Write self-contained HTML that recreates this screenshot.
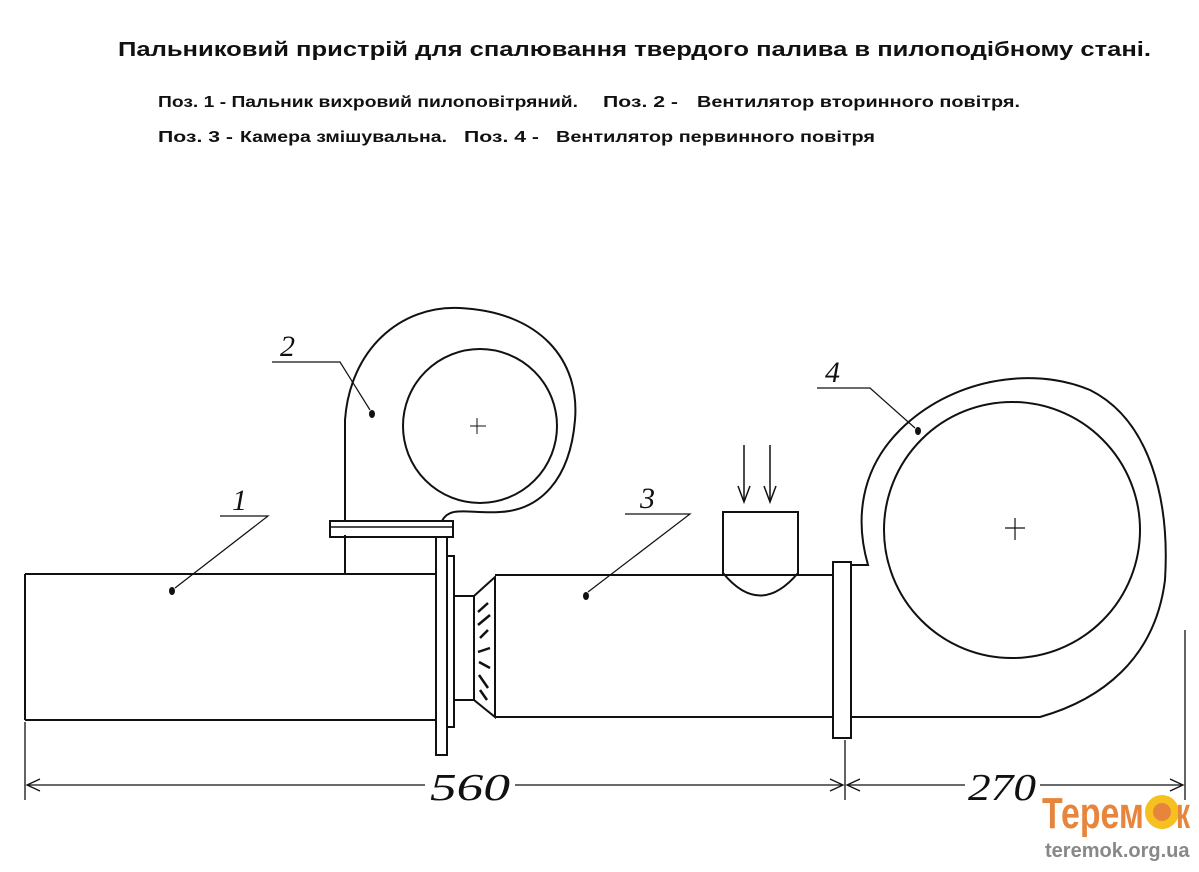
<!DOCTYPE html>
<html><head><meta charset="utf-8"><style>
html,body{margin:0;padding:0;background:#fff;}
svg{display:block}
</style></head><body>
<svg width="1199" height="872" viewBox="0 0 1199 872" xmlns="http://www.w3.org/2000/svg">
<rect width="1199" height="872" fill="#fff"/>
<g font-family="Liberation Sans, sans-serif" font-weight="bold" fill="#111">
<text x="118" y="56" font-size="20" textLength="1033" lengthAdjust="spacingAndGlyphs">Пальниковий пристрій для спалювання твердого палива в пилоподібному стані.</text>
<text x="158" y="107" font-size="15.5" textLength="420" lengthAdjust="spacingAndGlyphs">Поз. 1 - Пальник вихровий пилоповітряний.</text>
<text x="603" y="107" font-size="15.5" textLength="75" lengthAdjust="spacingAndGlyphs">Поз. 2 -</text>
<text x="697" y="107" font-size="15.5" textLength="323" lengthAdjust="spacingAndGlyphs">Вентилятор вторинного повітря.</text>
<text x="158" y="142" font-size="15.5" textLength="75" lengthAdjust="spacingAndGlyphs">Поз. 3 -</text>
<text x="240" y="142" font-size="15.5" textLength="207" lengthAdjust="spacingAndGlyphs">Камера змішувальна.</text>
<text x="464" y="142" font-size="15.5" textLength="75" lengthAdjust="spacingAndGlyphs">Поз. 4 -</text>
<text x="556" y="142" font-size="15.5" textLength="319" lengthAdjust="spacingAndGlyphs">Вентилятор первинного повітря</text>
</g>
<g fill="none" stroke="#111" stroke-width="2">
<path d="M25 574 H436 M25 720 H436 M25 574 V720"/>
<path d="M345 574 V535 M345 521 V420 C350 350 400 305 460 308 C540 312 580 360 575 420 C570 480 540 510 500 512 C470 514 450 505 442 521"/>
<circle cx="480" cy="426" r="77"/>
<path d="M470 426 H486 M477 418 V434" stroke-width="1"/>
<rect x="330" y="521" width="123" height="16"/>
<path d="M331 527 H452" stroke-width="1.5"/>
<rect x="436" y="537" width="11" height="218"/>
<rect x="447" y="556" width="7" height="171"/>
<rect x="454" y="596" width="20" height="104"/>
<path d="M474 596 L495 577 V717 L474 700 Z"/>
<g stroke-width="2.5"><path d="M478 612 L488 603 M478 625 L490 615 M480 638 L488 630 M478 652 L490 648 M479 662 L490 668 M479 675 L488 688 M480 690 L487 700"/></g>
<path d="M495 575 H833 M495 717 H833"/>
<rect x="723" y="512" width="75" height="63"/>
<path d="M723 573 Q760 618 798 573"/>
<path d="M744 445 V500 M770 445 V500" stroke-width="1.5"/>
<path d="M738 486 L744 502 L750 486 M764 486 L770 502 L776 486" stroke-width="1.5"/>
<rect x="833" y="562" width="18" height="176"/>
<path d="M851 565 H868 C855 520 860 470 900 430 C950 380 1030 365 1090 390 C1150 420 1170 500 1165 580 C1155 660 1100 700 1040 717 H851"/>
<circle cx="1012" cy="530" r="128"/>
<path d="M1005 528 H1025 M1015 518 V540" stroke-width="1.2"/>
<path d="M25 722 V800 M845 740 V800 M1185 630 V800" stroke-width="1.3"/>
<path d="M28 785 H425 M515 785 H843 M848 785 H965 M1040 785 H1182" stroke-width="1.3"/>
<path d="M40 779 L27 785 L40 791 M830 779 L843 785 L830 791 M860 779 L847 785 L860 791 M1170 779 L1183 785 L1170 791" stroke-width="1.3"/>
<path d="M272 362 H340 L370 410 M220 516 H268 L175 588 M625 514 H690 L588 592 M817 388 H870 L915 428" stroke-width="1.2"/>
</g>
<g fill="#111">
<ellipse cx="372" cy="414" rx="3" ry="4"/><ellipse cx="172" cy="591" rx="3" ry="4"/><ellipse cx="586" cy="596" rx="3" ry="4"/><ellipse cx="918" cy="431" rx="3" ry="4"/>
</g>
<g font-family="Liberation Serif, serif" font-style="italic" font-size="30" fill="#111">
<text x="280" y="356">2</text><text x="232" y="510">1</text><text x="640" y="508">3</text><text x="825" y="382">4</text>
<text x="430" y="800" font-size="38" textLength="80" lengthAdjust="spacingAndGlyphs">560</text><text x="968" y="800" font-size="38" textLength="68" lengthAdjust="spacingAndGlyphs">270</text>
</g>
<text x="1042" y="828" font-family="Liberation Sans, sans-serif" font-weight="bold" font-size="44" fill="#e8853d" textLength="102" lengthAdjust="spacingAndGlyphs">Терем</text>
<circle cx="1162" cy="812" r="17" fill="#f5c020"/>
<circle cx="1162" cy="812" r="9" fill="#e8853d"/>
<text x="1176" y="828" font-family="Liberation Sans, sans-serif" font-weight="bold" font-size="44" fill="#e8853d" textLength="14" lengthAdjust="spacingAndGlyphs">к</text>
<text x="1045" y="857" font-family="Liberation Sans, sans-serif" font-weight="bold" font-size="20" fill="#888">teremok.org.ua</text>
</svg>
</body></html>
